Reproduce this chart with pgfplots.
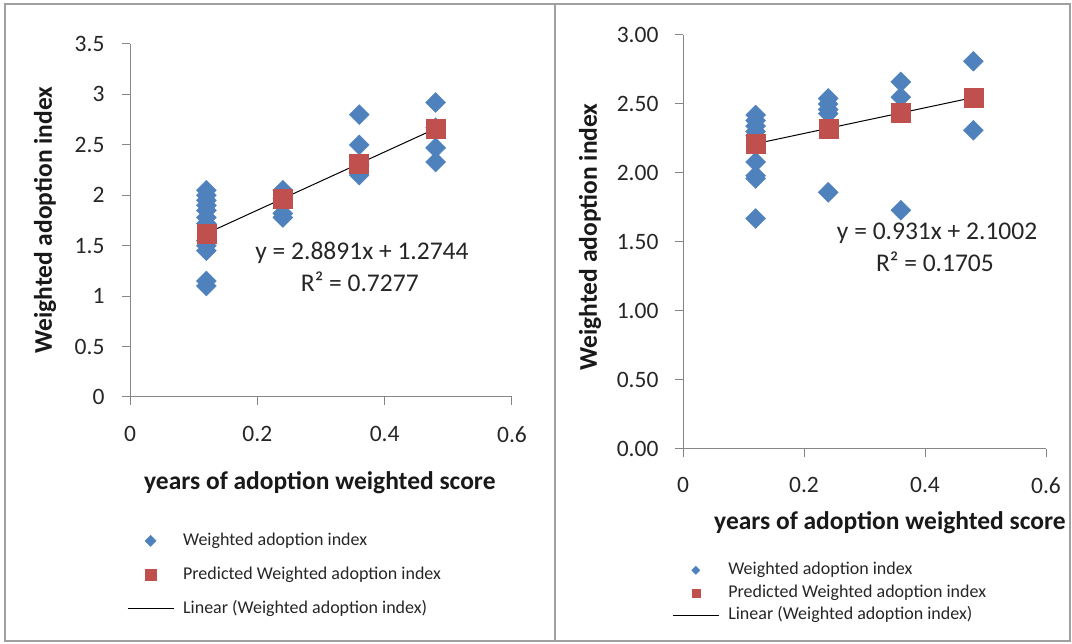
\documentclass[border=0pt]{standalone}
\usepackage{fontspec}
\setmainfont{Carlito}
\usepackage{pgfplots}
\pgfplotsset{compat=1.18}
\definecolor{ptblue}{HTML}{4F81BD}
\definecolor{ptred}{HTML}{C0504D}
\definecolor{axgray}{HTML}{868686}
\definecolor{framegray}{HTML}{A0A0A0}
\pgfplotsset{
  common/.style={
    scale only axis,
    axis lines=left,
    x axis line style={-}, y axis line style={-},
    axis line style={draw=axgray, line width=1pt},
    tick style={draw=axgray, line width=1pt},
    tick align=outside,
    major tick length=8pt,
    xmin=0, xmax=0.6,
    xtick={0,0.2,0.4,0.6},
    ymin=0,
    ticklabel style={font=\fontsize{23.5}{28}\selectfont, text=black!85},
    /pgf/number format/assume math mode=true,
    label style={font=\bfseries\fontsize{25.5}{30}\selectfont, text=black!90},
    clip=false,
    legend style={draw=none, fill=none, inner sep=0pt,
      font=\fontsize{18}{21}\selectfont, text=black!85,
      nodes={inner sep=0pt, text height=13pt, text depth=4pt},
      anchor=north west,
      /tikz/every odd column/.append style={column sep=9pt}},
    legend cell align=left,
    legend image code/.code={\draw[mark repeat=2,mark phase=2,##1] plot coordinates {(0pt,0pt) (23pt,0pt) (46pt,0pt)};},
  },
  dia/.style={only marks, mark=square*, mark options={rotate=45, fill=ptblue, draw=ptblue, line width=0.4pt}, mark size=7.07pt},
  sq/.style={only marks, mark=square*, mark options={fill=ptred, draw=ptred, line width=0.4pt}, mark size=9.5pt},
  trend/.style={black, line width=1pt, mark=none},
}
\begin{document}
\begin{tikzpicture}[x=1pt,y=1pt]
\path[use as bounding box] (0,0) rectangle (1072,644);
\draw[framegray, line width=2pt] (5,3) rectangle (1070,640);
\draw[framegray, line width=2pt] (555,3) -- (555,640);

% ---------------- left panel ----------------
\begin{axis}[common,
  at={(130pt,247pt)}, anchor=south west,
  width=382pt, height=353pt,
  ymax=3.5, ytick={0,0.5,1,1.5,2,2.5,3,3.5},
  xticklabel style={yshift=-18pt},
  yticklabel style={xshift=-14pt},
  xlabel={years of adoption weighted score},
  ylabel={Weighted adoption index},
  xlabel style={at={(axis description cs:0.497,-0.2436)}, anchor=center},
  ylabel style={at={(axis description cs:-0.2225,0.501)}, anchor=center},
  legend style={at={(rel axis cs:-0.008,-0.383)}, row sep=17pt},
]
\addlegendimage{dia, mark size=3.9pt}
\addlegendentry{Weighted adoption index}
\addlegendimage{sq, mark size=5.8pt}
\addlegendentry{Predicted Weighted adoption index}
\addlegendimage{trend}
\addlegendentry{Linear (Weighted adoption index)}
\addplot[dia, forget plot] coordinates {
 (0.12,2.05) (0.12,2.00) (0.12,1.95) (0.12,1.90) (0.12,1.85) (0.12,1.78)
 (0.12,1.72) (0.12,1.55) (0.12,1.50) (0.12,1.45) (0.12,1.15) (0.12,1.10)
 (0.24,2.05) (0.24,1.97) (0.24,1.82) (0.24,1.78)
 (0.36,2.80) (0.36,2.50) (0.36,2.30) (0.36,2.20)
 (0.48,2.92) (0.48,2.67) (0.48,2.47) (0.48,2.33)
};
\addplot[sq, forget plot] coordinates {
 (0.12,1.621) (0.24,1.968) (0.36,2.314) (0.48,2.661)
};
\addplot[trend, forget plot] coordinates {(0.12,1.621) (0.48,2.661)};
\node[font=\fontsize{25.5}{30}\selectfont, text=black!85] at (axis cs:0.3644,1.428) {y = 2.8891x + 1.2744};
\node[font=\fontsize{25.5}{30}\selectfont, text=black!85] at (axis cs:0.361,1.140) {R² = 0.7277};
\end{axis}

% ---------------- right panel ----------------
\begin{axis}[common,
  at={(683pt,195pt)}, anchor=south west,
  width=363pt, height=414pt,
  ymax=3, ytick={0,0.5,1,1.5,2,2.5,3},
  yticklabel style={/pgf/number format/.cd, fixed, fixed zerofill, precision=2, /tikz/.cd, xshift=-13pt},
  xticklabel style={yshift=-17pt},
  xlabel={years of adoption weighted score},
  ylabel={Weighted adoption index},
  xlabel style={at={(axis description cs:0.570,-0.179)}, anchor=center},
  ylabel style={at={(axis description cs:-0.256,0.512)}, anchor=center},
  legend style={at={(rel axis cs:-0.030,-0.272)}, row sep=5.5pt},
]
\addlegendimage{dia, mark size=2.9pt}
\addlegendentry{Weighted adoption index}
\addlegendimage{sq, mark size=4pt}
\addlegendentry{Predicted Weighted adoption index}
\addlegendimage{trend}
\addlegendentry{Linear (Weighted adoption index)}
\addplot[dia, forget plot] coordinates {
 (0.12,2.42) (0.12,2.38) (0.12,2.34) (0.12,2.30) (0.12,2.27) (0.12,2.08)
 (0.12,1.98) (0.12,1.96) (0.12,1.67)
 (0.24,2.54) (0.24,2.50) (0.24,2.46) (0.24,2.43) (0.24,1.86)
 (0.36,2.66) (0.36,2.55) (0.36,1.73)
 (0.48,2.81) (0.48,2.31)
};
\addplot[sq, forget plot] coordinates {
 (0.12,2.212) (0.24,2.324) (0.36,2.435) (0.48,2.547)
};
\addplot[trend, forget plot] coordinates {(0.12,2.212) (0.48,2.547)};
\node[font=\fontsize{25.5}{30}\selectfont, text=black!85] at (axis cs:0.420,1.565) {y = 0.931x + 2.1002};
\node[font=\fontsize{25.5}{30}\selectfont, text=black!85] at (axis cs:0.4165,1.355) {R² = 0.1705};
\end{axis}
\end{tikzpicture}
\end{document}
